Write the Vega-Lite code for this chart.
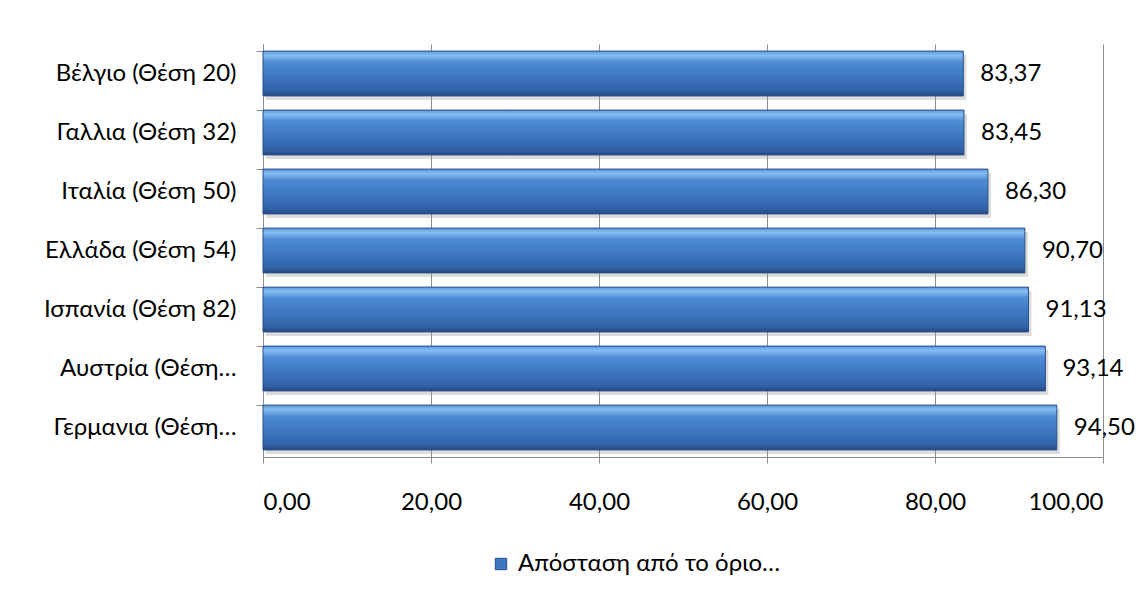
{
  "$schema": "https://vega.github.io/schema/vega-lite/v6.json",
  "autosize": "none",
  "width": 840,
  "height": 413,
  "padding": {"left": 263, "top": 44, "right": 44, "bottom": 139},
  "background": "white",
  "config": {
    "locale": {"number": {"decimal": ",", "thousands": ".", "grouping": [3], "currency": ["", " €"]}},
    "view": {"stroke": null},
    "font": "Lato",
    "axis": {
      "labelFont": "Lato",
      "labelFontSize": 24,
      "labelColor": "#000000",
      "gridColor": "#8c8c8c",
      "domainColor": "#8c8c8c",
      "tickColor": "#8c8c8c",
      "titleFontSize": 0
    },
    "legend": {"labelFont": "Lato", "labelFontSize": 24, "labelColor": "#000000"}
  },
  "data": {
    "values": [
      {"country": "Βέλγιο (Θέση 20)", "value": 83.37},
      {"country": "Γαλλια (Θέση 32)", "value": 83.45},
      {"country": "Ιταλία (Θέση 50)", "value": 86.30},
      {"country": "Ελλάδα (Θέση 54)", "value": 90.70},
      {"country": "Ισπανία (Θέση 82)", "value": 91.13},
      {"country": "Αυστρία (Θέση…", "value": 93.14},
      {"country": "Γερμανια (Θέση…", "value": 94.50}
    ]
  },
  "encoding": {
    "y": {
      "field": "country",
      "type": "nominal",
      "sort": null,
      "title": null,
      "scale": {"paddingInner": 0.24, "paddingOuter": 0.12},
      "axis": {
        "bandPosition": 0,
        "tickSize": 7,
        "labelPadding": 20,
        "labelLimit": 300,
        "grid": false,
        "domain": true
      }
    },
    "x": {
      "field": "value",
      "type": "quantitative",
      "title": null,
      "scale": {"domain": [0, 100], "nice": false},
      "axis": {
        "values": [0, 20, 40, 60, 80, 100],
        "format": ".2f",
        "tickSize": 6,
        "labelPadding": 27,
        "grid": true,
        "domain": true
      }
    }
  },
  "layer": [
    {
      "mark": {"type": "bar", "color": "#9a9a9a", "opacity": 0.35, "xOffset": 3, "yOffset": 4}
    },
    {
      "mark": {
        "type": "bar",
        "stroke": "#284f85",
        "strokeWidth": 1,
        "fill": {
          "gradient": "linear",
          "x1": 0, "y1": 0, "x2": 0, "y2": 1,
          "stops": [
            {"offset": 0, "color": "#5a96dc"},
            {"offset": 0.1, "color": "#86bdf3"},
            {"offset": 0.25, "color": "#4f8ad4"},
            {"offset": 0.6, "color": "#3c76c0"},
            {"offset": 0.88, "color": "#3262a5"},
            {"offset": 1, "color": "#234a80"}
          ]
        }
      }
    },
    {
      "mark": {"type": "text", "align": "left", "baseline": "middle", "dx": 17, "fontSize": 24, "font": "Lato", "color": "#000000"},
      "encoding": {"text": {"field": "value", "type": "quantitative", "format": ".2f"}}
    },
    {
      "mark": {"type": "point", "shape": "square", "opacity": 0, "filled": true},
      "encoding": {
        "color": {
          "datum": "Απόσταση από το όριο…",
          "scale": {"range": ["#3c76c0"]},
          "legend": {
            "title": null,
            "orient": "none",
            "legendX": 226,
            "legendY": 508,
            "symbolType": "square",
            "symbolSize": 130,
            "symbolOpacity": 1,
            "symbolStrokeColor": "#284f85",
            "symbolStrokeWidth": 1,
            "labelLimit": 400,
            "labelOffset": 5
          }
        }
      }
    }
  ]
}
